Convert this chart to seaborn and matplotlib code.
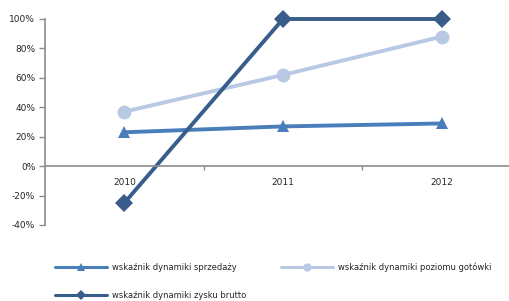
import pandas as pd
import seaborn as sns
import matplotlib.pyplot as plt

years = ["2010", "2011", "2012"]
sprzedaz = [23, 27, 29]
gotowka = [37, 62, 88]
zysk = [-25, 100, 100]

series = [
    ("wskaźnik dynamiki sprzedaży", sprzedaz, "#4a7ebb", "^"),
    ("wskaźnik dynamiki poziomu gotówki", gotowka, "#b9c9e3", "o"),
    ("wskaźnik dynamiki zysku brutto", zysk, "#385d8a", "D"),
]

sns.set_style("white")
plt.rcParams['font.family'] = ['DejaVu Sans']

fig = plt.figure(figsize=(5.1, 3.01), dpi=100)
ax = fig.add_axes([45 / 510, 1 - 225 / 301, 476 / 510, 206 / 301])

for name, vals, color, marker in series:
    df = pd.DataFrame({"x": range(len(years)), "y": vals})
    sns.lineplot(data=df, x="x", y="y", ax=ax, color=color, linewidth=2.8,
                 marker=marker, markersize=9 if marker != "o" else 10,
                 markeredgewidth=0, label=name, clip_on=False)

ax.set_xlim(-0.5, 2.5)
ax.set_ylim(-40, 100)
ax.set_yticks(range(-40, 101, 20))
ax.set_yticklabels([f"{v}%" for v in range(-40, 101, 20)])
ax.set_xticks(range(len(years)))
ax.set_xticklabels(years)
ax.set_xticks([0.5, 1.5], minor=True)
ax.set_xlabel("")
ax.set_ylabel("")

for s in ["top", "right"]:
    ax.spines[s].set_visible(False)
ax.spines["bottom"].set_position(("data", 0))
for s in ["left", "bottom"]:
    ax.spines[s].set_color("#8c8c8c")
    ax.spines[s].set_linewidth(1.2)

ax.tick_params(axis="y", which="major", left=True, length=4, width=1,
               color="#8c8c8c", labelsize=6.5, pad=3)
ax.tick_params(axis="x", which="major", bottom=False, labelsize=6.5, pad=5)
ax.tick_params(axis="x", which="minor", bottom=True, length=3, width=1,
               color="#8c8c8c")

h, l = ax.get_legend_handles_labels()
ax.get_legend().remove()
order = [0, 2, 1]
leg = fig.legend([h[i] for i in order], [l[i] for i in order], ncol=2,
                 loc="upper left", bbox_to_anchor=(55 / 510, 1 - 262 / 301),
                 frameon=False, fontsize=6, handlelength=6.2, handletextpad=0.6,
                 columnspacing=4.2, labelspacing=2.3, borderaxespad=0,
                 borderpad=0, markerscale=0.6)
for line in leg.get_lines():
    line.set_linewidth(2.2)

fig.savefig("out.png", dpi=100)
